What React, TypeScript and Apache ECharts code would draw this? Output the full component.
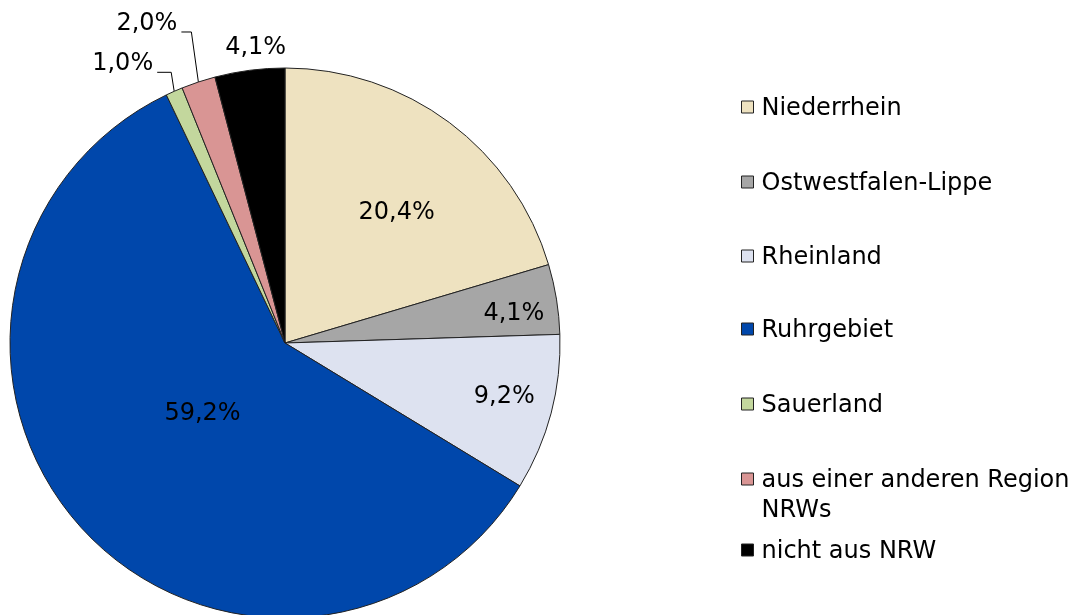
import React, { useEffect, useRef } from "react";
import * as echarts from "echarts";

const categories = [
  "Niederrhein",
  "Ostwestfalen-Lippe",
  "Rheinland",
  "Ruhrgebiet",
  "Sauerland",
  "aus einer anderen Region NRWs",
  "nicht aus NRW",
];
const values = [20.4, 4.1, 9.2, 59.2, 1.0, 2.0, 4.1];
const legendLabels = [
  "Niederrhein",
  "Ostwestfalen-Lippe",
  "Rheinland",
  "Ruhrgebiet",
  "Sauerland",
  "aus einer anderen Region\nNRWs",
  "nicht aus NRW",
];

// styles / layout
const colors = ["#EEE2C0", "#A6A6A6", "#DDE2F0", "#0047AB", "#C3D79D", "#D99594", "#000000"];
const CX = 285;
const CY = 343;
const R = 275;
const FONT = "Verdana, 'DejaVu Sans', sans-serif";
const FS = 24;
const legendCenters = [107, 182, 256, 329, 404, 479, 550];
const placement: any[] = [
  { type: "inside", r: 0.63, da: 3.4 },
  { type: "inside", r: 0.84, da: 1.5 },
  { type: "inside", r: 0.82, da: -1.3 },
  { type: "inside", r: 0.39, da: 2.4 },
  { type: "leader", dx: -3, dy: -19, run: 14 },
  { type: "leader", dx: -7, dy: -50, run: 10 },
  { type: "outside", dx: 6, dy: -24 },
];

const fmt = (v: number) => v.toFixed(1).replace(".", ",") + "%";

export default function App() {
  const ref = useRef<HTMLDivElement>(null);
  useEffect(() => {
    document.body.style.margin = "0";
    const chart = echarts.init(ref.current!, null, { renderer: "svg" });
    const total = values.reduce((a, b) => a + b, 0);

    const legends = categories.map((name, i) => {
      const twoLine = legendLabels[i].includes("\n");
      return {
        data: [name],
        orient: "vertical",
        left: 741,
        top: twoLine ? legendCenters[i] - 45 : legendCenters[i] - 15,
        padding: 0,
        icon: "rect",
        itemWidth: 12,
        itemHeight: 12,
        itemStyle: { borderColor: "#222", borderWidth: 1 },
        selectedMode: false,
        formatter: () => (twoLine ? "\n" + legendLabels[i] : legendLabels[i]),
        textStyle: {
          fontFamily: FONT,
          fontSize: FS,
          color: "#000",
          lineHeight: 30,
          padding: [0, 0, 0, 3],
        },
      };
    });

    chart.setOption({
      animation: false,
      legend: legends,
      series: [
        {
          type: "pie",
          center: [CX, CY],
          radius: R,
          startAngle: 90,
          clockwise: true,
          avoidLabelOverlap: false,
          minShowLabelAngle: 0,
          itemStyle: { borderColor: "#222", borderWidth: 1 },
          emphasis: { disabled: true },
          label: {
            fontFamily: FONT,
            fontSize: FS,
            color: "#000",
            formatter: (p: any) => fmt(p.value),
          },
          labelLine: { lineStyle: { color: "#000", width: 1 } },
          labelLayout: (params: any) => {
            const i = params.dataIndex;
            const before = values.slice(0, i).reduce((a, b) => a + b, 0);
            const p = placement[i];
            const ang = ((before + values[i] / 2) / total) * Math.PI * 2 + ((p.da || 0) * Math.PI) / 180;
            const sx = Math.sin(ang);
            const sy = -Math.cos(ang);
            if (p.type === "inside") {
              return { x: CX + sx * p.r * R, y: CY + sy * p.r * R, align: "center", verticalAlign: "middle" };
            }
            const rimX = CX + sx * R;
            const rimY = CY + sy * R;
            if (p.type === "leader") {
              const ex = rimX + p.dx;
              const ey = rimY + p.dy;
              const endX = ex - p.run;
              return {
                x: endX - 4,
                y: ey - 10,
                align: "right",
                verticalAlign: "middle",
                labelLinePoints: [
                  [rimX, rimY],
                  [ex, ey],
                  [endX, ey],
                ],
              };
            }
            return { x: rimX + p.dx, y: rimY + p.dy, align: "center", verticalAlign: "middle" };
          },
          data: categories.map((name, i) => ({
            name,
            value: values[i],
            itemStyle: { color: colors[i] },
            label: { position: placement[i].type === "inside" ? "inside" : "outside" },
            labelLine: { show: placement[i].type === "leader", length: 10, length2: 10 },
          })),
        },
      ],
    });
    return () => chart.dispose();
  }, []);
  return <div ref={ref} style={{ position: "fixed", left: 0, top: 0, width: 1078, height: 615 }} />;
}
